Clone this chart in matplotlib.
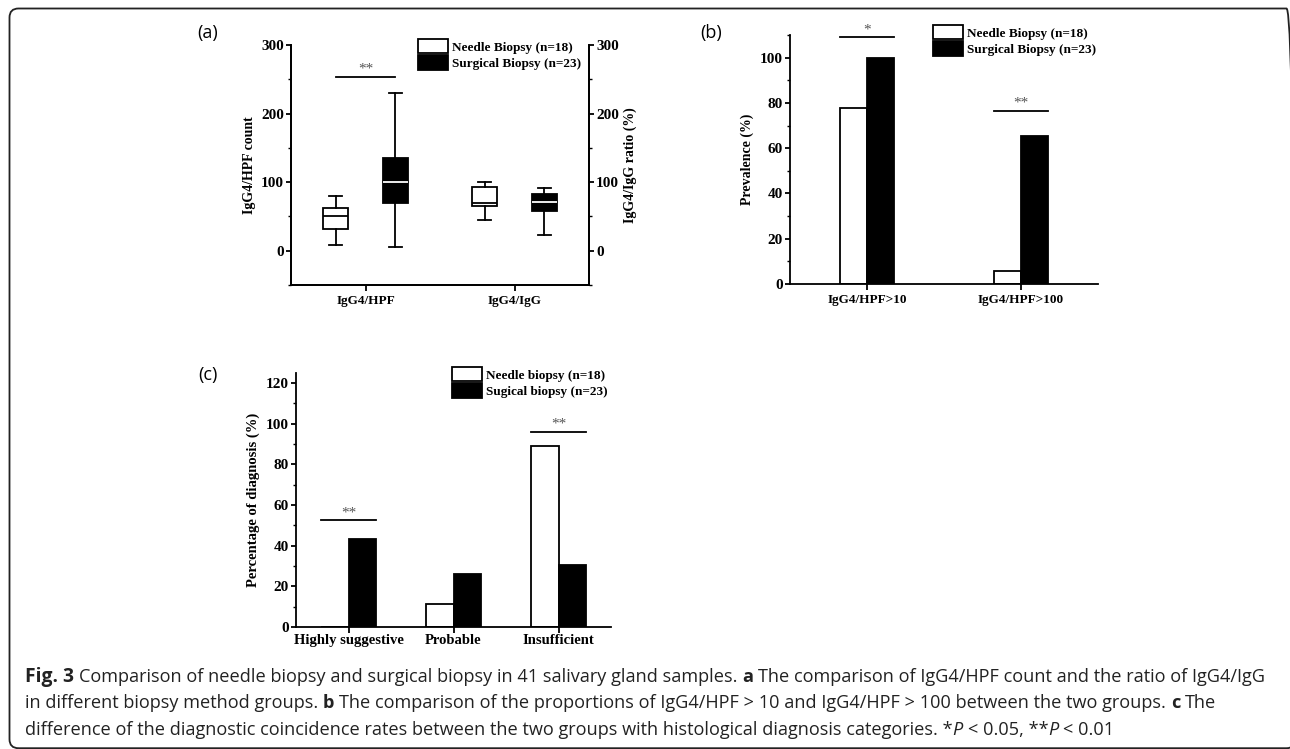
import matplotlib
matplotlib.use("Agg")
import matplotlib.pyplot as plt
import numpy as np
from matplotlib.patches import FancyBboxPatch, Patch
from matplotlib.ticker import MultipleLocator
from matplotlib.transforms import IdentityTransform

# (a) box summaries: whisker low, Q1, median, Q3, whisker high
groups_a = ["IgG4/HPF", "IgG4/IgG"]
needle_a = [[8, 32, 50, 62, 80], [45, 65, 70, 93, 100]]
surgical_a = [[6, 69, 100, 135, 230], [23, 58, 71, 83, 91]]

# (b) prevalence (%)
groups_b = ["IgG4/HPF>10", "IgG4/HPF>100"]
needle_b = [77.8, 5.6]
surgical_b = [100.0, 65.2]

# (c) percentage of diagnosis (%)
groups_c = ["Highly suggestive", "Probable", "Insufficient"]
needle_c = [0.0, 11.1, 88.9]
surgical_c = [43.5, 26.1, 30.4]

W, H = 1290, 749
plt.rcParams.update({
    "font.family": "Liberation Serif",
    "font.weight": "bold",
    "font.size": 9.5,
    "axes.labelweight": "bold",
    "axes.labelsize": 10,
    "ytick.labelsize": 11,
    "xtick.labelsize": 9.5,
    "axes.linewidth": 1.3,
    "xtick.major.width": 1.3, "ytick.major.width": 1.3,
    "xtick.minor.width": 1.0, "ytick.minor.width": 1.0,
    "xtick.major.size": 4, "ytick.major.size": 3.5,
    "xtick.minor.size": 2.5, "ytick.minor.size": 2.2,
    "xtick.direction": "out", "ytick.direction": "out",
    "xtick.major.pad": 3, "ytick.major.pad": 1.5,
})

fig = plt.figure(figsize=(W / 100, H / 100), dpi=100)


def px_axes(x0, y0, x1, y1):
    return fig.add_axes([x0 / W, 1 - y1 / H, (x1 - x0) / W, (y1 - y0) / H])


def add_legend(ax, labels, x, y):
    handles = [Patch(facecolor="white", edgecolor="black", lw=1.3),
               Patch(facecolor="black", edgecolor="black", lw=1.3)]
    ax.legend(handles, labels, loc="upper left", bbox_to_anchor=(x / W, 1 - y / H),
              bbox_transform=fig.transFigure, frameon=False, fontsize=9.5,
              handlelength=2.3, handleheight=1.3, handletextpad=0.25,
              labelspacing=0.12, borderpad=0, borderaxespad=0)


def sig(ax, x0, x1, y, stars, dy):
    ax.plot([x0, x1], [y, y], color="black", lw=1.3, clip_on=False)
    ax.text((x0 + x1) / 2, y + dy, stars, ha="center", va="bottom",
            color="#555555", fontsize=11, fontweight="normal", clip_on=False)


# ---- panel (a)
ax = px_axes(291, 45, 589, 285)
xa = np.arange(len(groups_a)) * 2 + 1.0
off = 0.4
stats_n = [dict(whislo=v[0], q1=v[1], med=v[2], q3=v[3], whishi=v[4], fliers=[]) for v in needle_a]
stats_s = [dict(whislo=v[0], q1=v[1], med=v[2], q3=v[3], whishi=v[4], fliers=[]) for v in surgical_a]
line = dict(color="black", lw=1.3)
ax.bxp(stats_n, positions=xa - off, widths=0.33, capwidths=0.18, patch_artist=True,
       showfliers=False, manage_ticks=False,
       boxprops=dict(facecolor="white", edgecolor="black", lw=1.3),
       medianprops=line, whiskerprops=line, capprops=line)
ax.bxp(stats_s, positions=xa + off, widths=0.33, capwidths=0.18, patch_artist=True,
       showfliers=False, manage_ticks=False,
       boxprops=dict(facecolor="black", edgecolor="black", lw=1.3),
       medianprops=dict(color="white", lw=1.3), whiskerprops=line, capprops=line)
ax.set_xlim(0, 4)
ax.set_ylim(-50, 300)
ax.set_xticks(xa)
ax.set_xticklabels(groups_a)
ax.set_yticks([0, 100, 200, 300])
ax.yaxis.set_minor_locator(MultipleLocator(50))
ax.spines["top"].set_visible(False)
ax.set_ylabel("IgG4/HPF count", labelpad=4)
ax2 = ax.twinx()
ax2.set_ylim(-50, 300)
ax2.set_yticks([0, 100, 200, 300])
ax2.yaxis.set_minor_locator(MultipleLocator(50))
ax2.spines["top"].set_visible(False)
ax2.set_ylabel("IgG4/IgG ratio (%)", labelpad=3)
sig(ax, xa[0] - off, xa[0] + off, 254, "**", 1)
add_legend(ax2, ["Needle Biopsy (n=18)", "Surgical Biopsy (n=23)"], 418, 39)

# ---- panel (b)
bx = px_axes(790, 35, 1098, 284)
xb = np.arange(len(groups_b)) * 2 + 1.0
bw = 0.35
bx.bar(xb - bw / 2, needle_b, bw, facecolor="white", edgecolor="black", lw=1.3)
bx.bar(xb + bw / 2, surgical_b, bw, facecolor="black", edgecolor="black", lw=1.3)
bx.set_xlim(0, 4)
bx.set_ylim(0, 110)
bx.set_xticks(xb)
bx.set_xticklabels(groups_b)
bx.set_yticks(np.arange(0, 101, 20))
bx.yaxis.set_minor_locator(MultipleLocator(10))
bx.spines["top"].set_visible(False)
bx.spines["right"].set_visible(False)
bx.set_ylabel("Prevalence (%)", labelpad=4)
sig(bx, xb[0] - bw, xb[0] + bw, 109, "*", 0.3)
sig(bx, xb[1] - bw, xb[1] + bw, 76.5, "**", 0.5)
add_legend(bx, ["Needle Biopsy (n=18)", "Surgical Biopsy (n=23)"], 933, 25)

# ---- panel (c)
cx = px_axes(296, 373, 611, 627)
xc = np.arange(len(groups_c)) + 0.5
cw = 0.26
cx.bar(xc - cw / 2, needle_c, cw, facecolor="white", edgecolor="black", lw=1.3)
cx.bar(xc + cw / 2, surgical_c, cw, facecolor="black", edgecolor="black", lw=1.3)
cx.set_xlim(0, 3)
cx.set_ylim(0, 125)
cx.set_xticks(xc)
cx.set_xticklabels(groups_c, fontsize=10.5)
cx.tick_params(axis="x", pad=1)
cx.set_yticks(np.arange(0, 121, 20))
cx.yaxis.set_minor_locator(MultipleLocator(10))
cx.spines["top"].set_visible(False)
cx.spines["right"].set_visible(False)
cx.set_ylabel("Percentage of diagnosis (%)", labelpad=4, fontsize=10.5)
sig(cx, xc[0] - cw, xc[0] + cw, 52.6, "**", 0.5)
sig(cx, xc[2] - cw, xc[2] + cw, 96, "**", 0.5)
add_legend(cx, ["Needle biopsy (n=18)", "Sugical biopsy (n=23)"], 452, 367)

# panel letters
for lab, x, y in [("(a)", 208, 33), ("(b)", 711, 33), ("(c)", 208, 375)]:
    fig.text(x / W, 1 - y / H, lab, family="Open Sans", fontweight="normal",
             fontsize=13, ha="center", va="center")

# rounded frame around the figure (right side runs just off the image)
fig.patches.append(FancyBboxPatch((9.5, 0.8), 1286, H - 9.3, boxstyle="round,pad=0,rounding_size=9",
                                  transform=IdentityTransform(), fill=False,
                                  ec="#222222", lw=1.3, figure=fig))

# caption
cap_lines = [
    [("Fig. 3", "bold"), (" Comparison of needle biopsy and surgical biopsy in 41 salivary gland samples.", "normal"),
     (" a", "bold"), (" The comparison of IgG4/HPF count and the ratio of IgG4/IgG", "normal")],
    [("in different biopsy method groups.", "normal"), (" b", "bold"),
     (" The comparison of the proportions of IgG4/HPF > 10 and IgG4/HPF > 100 between the two groups.", "normal"),
     (" c", "bold"), (" The", "normal")],
    [("difference of the diagnostic coincidence rates between the two groups with histological diagnosis categories. *", "normal"),
     ("P", "italic"), (" < 0.05, **", "normal"), ("P", "italic"), (" < 0.01", "normal")],
]
cap_base = [682, 708, 735]
cap_x0 = 25
cap_family = "Open Sans"
renderer = fig.canvas.get_renderer()


def text_width(s, size, weight="normal", style="normal"):
    t = fig.text(0, 0, s, family=cap_family, fontsize=size, fontweight=weight, fontstyle=style,
                 transform=IdentityTransform())
    w = t.get_window_extent(renderer).width
    t.remove()
    return w


def draw_line(runs, y, size, draw=True):
    space = text_width("x x", size) - text_width("xx", size)
    x = cap_x0
    for txt, st in runs:
        if txt.startswith(" "):
            x += space
            txt = txt[1:]
        weight = "bold" if st == "bold" else "normal"
        style = "italic" if st == "italic" else "normal"
        fs = size * 1.06 if txt == "Fig. 3" else size
        if draw:
            t = fig.text(x, H - y, txt, family=cap_family, fontsize=fs, fontweight=weight,
                         fontstyle=style, color="#222222", va="baseline",
                         transform=IdentityTransform())
            x = t.get_window_extent(renderer).x1
        else:
            x += text_width(txt, fs, weight, style)
    return x


cap_size = 12
w1 = draw_line(cap_lines[0], 0, cap_size, draw=False) - cap_x0
cap_size = cap_size * 1238 / w1
for runs, y in zip(cap_lines, cap_base):
    draw_line(runs, y, cap_size)

fig.savefig("out.png", dpi=100)
